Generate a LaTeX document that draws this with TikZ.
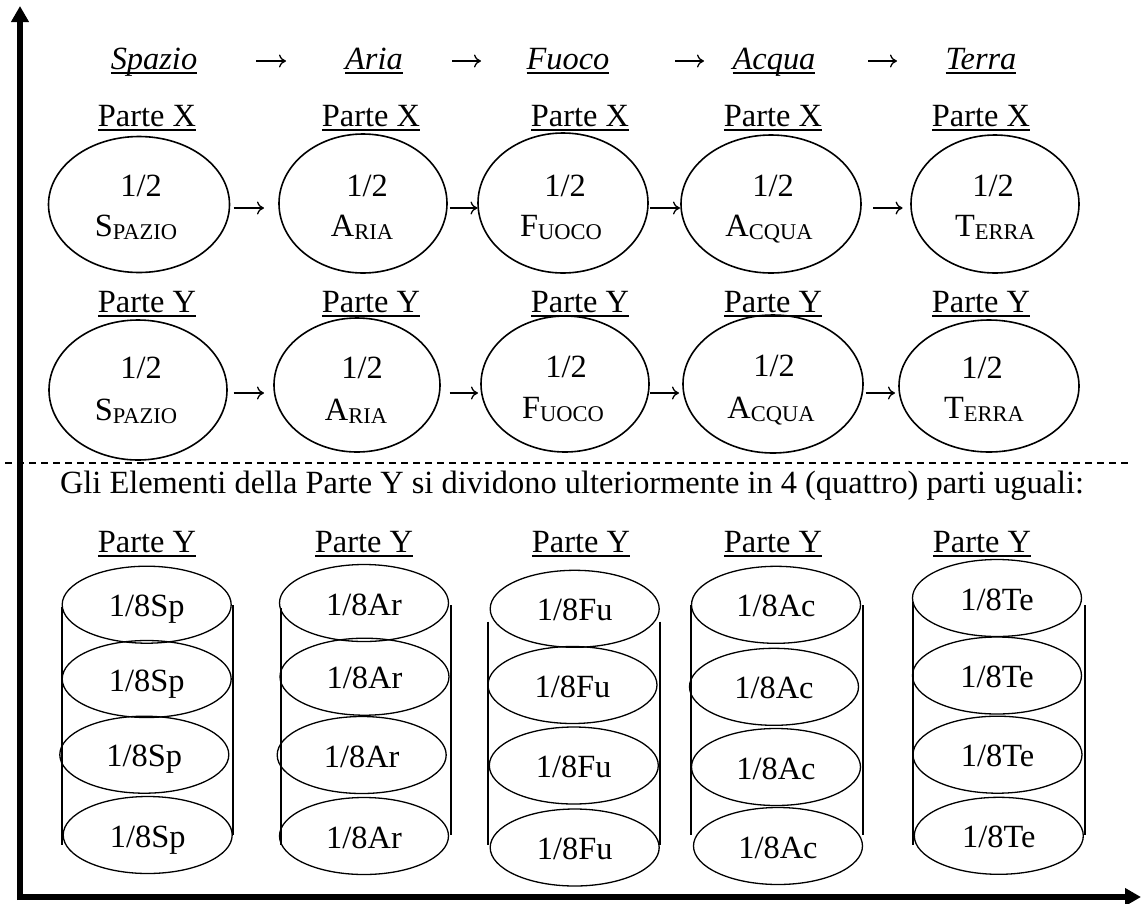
\documentclass[tikz,border=0pt]{standalone}
\usepackage{fontspec}
\setmainfont{Liberation Serif}
\usetikzlibrary{arrows.meta,shapes.geometric}
\newcommand{\myul}[1]{\setbox0\hbox{#1}\rlap{\rule[-4.5pt]{\wd0}{1.7pt}}\box0}
\newcommand{\lowcap}[2]{#1{\fontsize{22.5}{23}\selectfont\raisebox{-3pt}{#2}}}
\tikzset{
  el/.style={draw, line width=1.6pt, ellipse, inner sep=0pt, outer sep=0pt},
  cy/.style={draw, line width=1.3pt, ellipse, inner sep=0pt, outer sep=0pt,
             minimum width=169pt, minimum height=77pt, text height=24pt, text depth=0pt},
  txt/.style={anchor=base, inner sep=0pt, outer sep=0pt},
  rarr/.style={line width=1.3pt, -{To[length=7pt,width=13pt]}},
  axis/.style={line width=5.5pt, -{Triangle[length=16pt,width=17pt]}},
  cline/.style={line width=1.8pt},
  sep/.style={line width=1.8pt, dash pattern=on 7pt off 5pt}
}
\begin{document}
\begin{tikzpicture}[x=1pt, y=-1pt, font=\fontsize{32.4}{38}\selectfont]
\useasboundingbox (0,0) rectangle (1141,903);
% axes
\coordinate (o) at (20,897);
\coordinate (ytop) at (20,6);
\coordinate (xend) at (1141,897);
\draw[axis] (20,900) -- (ytop);
\draw[axis] (17,897) -- (xend);
% header
\node[txt] (hs) at (154,69) {\myul{\textit{Spazio}}};
\node[txt] (ha) at (374,69) {\myul{\textit{Aria}}};
\node[txt] (hf) at (568,69) {\myul{\textit{Fuoco}}};
\node[txt] (hq) at (774,69) {\myul{\textit{Acqua}}};
\node[txt] (ht) at (981,69) {\myul{\textit{Terra}}};
\coordinate (h1a) at (256,61); \coordinate (h1b) at (286,61);
\coordinate (h2a) at (452,61); \coordinate (h2b) at (481,61);
\coordinate (h3a) at (675,61); \coordinate (h3b) at (704,61);
\coordinate (h4a) at (868,61); \coordinate (h4b) at (897,61);
\draw[rarr] (h1a) -- (h1b);
\draw[rarr] (h2a) -- (h2b);
\draw[rarr] (h3a) -- (h3b);
\draw[rarr] (h4a) -- (h4b);
% Parte X row
\node[txt] (px1) at (147,126) {\myul{Parte X}};
\node[txt] (px2) at (371,126) {\myul{Parte X}};
\node[txt] (px3) at (580,126) {\myul{Parte X}};
\node[txt] (px4) at (773,126) {\myul{Parte X}};
\node[txt] (px5) at (981,126) {\myul{Parte X}};
% row 1 ellipses
\node[el, minimum width=181pt, minimum height=136pt] (x1) at (139,204.5) {};
\node[el, minimum width=168pt, minimum height=139pt] (x2) at (363,203.5) {};
\node[el, minimum width=170pt, minimum height=140pt] (x3) at (563,203) {};
\node[el, minimum width=180pt, minimum height=138pt] (x4) at (771,204) {};
\node[el, minimum width=168pt, minimum height=138pt] (x5) at (995,204) {};
\node[txt] (x1a) at (141,196) {1/2};
\node[txt] (x1b) at (136,236) {\lowcap{S}{PAZIO}};
\node[txt] (x2a) at (367,196) {1/2};
\node[txt] (x2b) at (362,236) {\lowcap{A}{RIA}};
\node[txt] (x3a) at (565,196) {1/2};
\node[txt] (x3b) at (561,236) {\lowcap{F}{UOCO}};
\node[txt] (x4a) at (773,196) {1/2};
\node[txt] (x4b) at (769,236) {\lowcap{A}{CQUA}};
\node[txt] (x5a) at (993,196) {1/2};
\node[txt] (x5b) at (995,236) {\lowcap{T}{ERRA}};
\draw[rarr] ([shift={(4,3.5)}]x1.east) -- ([shift={(-15,4.5)}]x2.west);
\draw[rarr] ([shift={(2.6,4.5)}]x2.east) -- ([shift={(-0.5,5)}]x3.west);
\draw[rarr] ([shift={(2,5)}]x3.east) -- ([shift={(-1,4)}]x4.west);
\draw[rarr] ([shift={(12,4)}]x4.east) -- ([shift={(-8.4,4)}]x5.west);
% Parte Y row
\node[txt] (py1) at (147,312) {\myul{Parte Y}};
\node[txt] (py2) at (371,312) {\myul{Parte Y}};
\node[txt] (py3) at (580,312) {\myul{Parte Y}};
\node[txt] (py4) at (773,312) {\myul{Parte Y}};
\node[txt] (py5) at (981,312) {\myul{Parte Y}};
% row 2 ellipses
\node[el, minimum width=178pt, minimum height=140pt] (y1) at (138,390) {};
\node[el, minimum width=166pt, minimum height=134pt] (y2) at (357,385) {};
\node[el, minimum width=168pt, minimum height=136pt] (y3) at (565,384) {};
\node[el, minimum width=180pt, minimum height=138pt] (y4) at (773,384) {};
\node[el, minimum width=180pt, minimum height=132pt] (y5) at (989,386) {};
\node[txt] (y1a) at (141,378) {1/2};
\node[txt] (y1b) at (136,420) {\lowcap{S}{PAZIO}};
\node[txt] (y2a) at (362,378) {1/2};
\node[txt] (y2b) at (356,420) {\lowcap{A}{RIA}};
\node[txt] (y3a) at (566,377) {1/2};
\node[txt] (y3b) at (563,418) {\lowcap{F}{UOCO}};
\node[txt] (y4a) at (774,376) {1/2};
\node[txt] (y4b) at (771,418) {\lowcap{A}{CQUA}};
\node[txt] (y5a) at (982,378) {1/2};
\node[txt] (y5b) at (984,418) {\lowcap{T}{ERRA}};
\draw[rarr] ([shift={(6.6,3)}]y1.east) -- ([shift={(-10,8)}]y2.west);
\draw[rarr] ([shift={(9.6,8)}]y2.east) -- ([shift={(-3,9)}]y3.west);
\draw[rarr] ([shift={(1,9)}]y3.east) -- ([shift={(-4,9)}]y4.west);
\draw[rarr] ([shift={(2.6,9)}]y4.east) -- ([shift={(-4,7)}]y5.west);
% separator
\coordinate (sepL) at (5,462.7);
\coordinate (sepR) at (1130,462.7);
\draw[sep] (sepL) -- (sepR);
\node[txt, anchor=base west] (note) at (60,493) {Gli Elementi della Parte Y si dividono ulteriormente in 4 (quattro) parti uguali:};
% lower Parte Y
\node[txt] (pz1) at (147,552) {\myul{Parte Y}};
\node[txt] (pz2) at (364,552) {\myul{Parte Y}};
\node[txt] (pz3) at (581,552) {\myul{Parte Y}};
\node[txt] (pz4) at (773,552) {\myul{Parte Y}};
\node[txt] (pz5) at (982,552) {\myul{Parte Y}};
% cylinder Sp
\draw[cline] (61.7,606.7) -- (61.7,845);
\draw[cline] (232.7,605) -- (232.7,835);
\node[cy] (s1) at (146.7,604.7) {1/8Sp};
\node[cy] (s2) at (146.7,679) {1/8Sp};
\node[cy] (s3) at (144.3,754.7) {1/8Sp};
\node[cy] (s4) at (147.7,835) {1/8Sp};
% cylinder Ar
\draw[cline] (281,608) -- (281,845);
\draw[cline] (450.7,605) -- (450.7,835);
\node[cy] (r1) at (364,603) {1/8Ar};
\node[cy] (r2) at (364.5,676.7) {1/8Ar};
\node[cy] (r3) at (361.7,755) {1/8Ar};
\node[cy] (r4) at (364,836) {1/8Ar};
% cylinder Fu
\draw[cline] (488.3,621.7) -- (488.3,845);
\draw[cline] (660,621.7) -- (660,845);
\node[cy] (f1) at (574.7,608.8) {1/8Fu};
\node[cy] (f2) at (572.5,685) {1/8Fu};
\node[cy] (f3) at (573.8,765.5) {1/8Fu};
\node[cy] (f4) at (574.7,847.5) {1/8Fu};
% cylinder Ac
\draw[cline] (690.7,605) -- (690.7,835);
\draw[cline] (862.6,605) -- (862.6,835);
\node[cy] (c1) at (776,604.8) {1/8Ac};
\node[cy] (c2) at (774,686.8) {1/8Ac};
\node[cy] (c3) at (776,767) {1/8Ac};
\node[cy] (c4) at (778,846) {1/8Ac};
% cylinder Te
\draw[cline] (912.7,601.7) -- (912.7,845);
\draw[cline] (1085,605) -- (1085,835);
\node[cy] (t1) at (997,598) {1/8Te};
\node[cy] (t2) at (997,675.5) {1/8Te};
\node[cy] (t3) at (997.5,754.7) {1/8Te};
\node[cy] (t4) at (998.8,835.8) {1/8Te};
\end{tikzpicture}
\end{document}
